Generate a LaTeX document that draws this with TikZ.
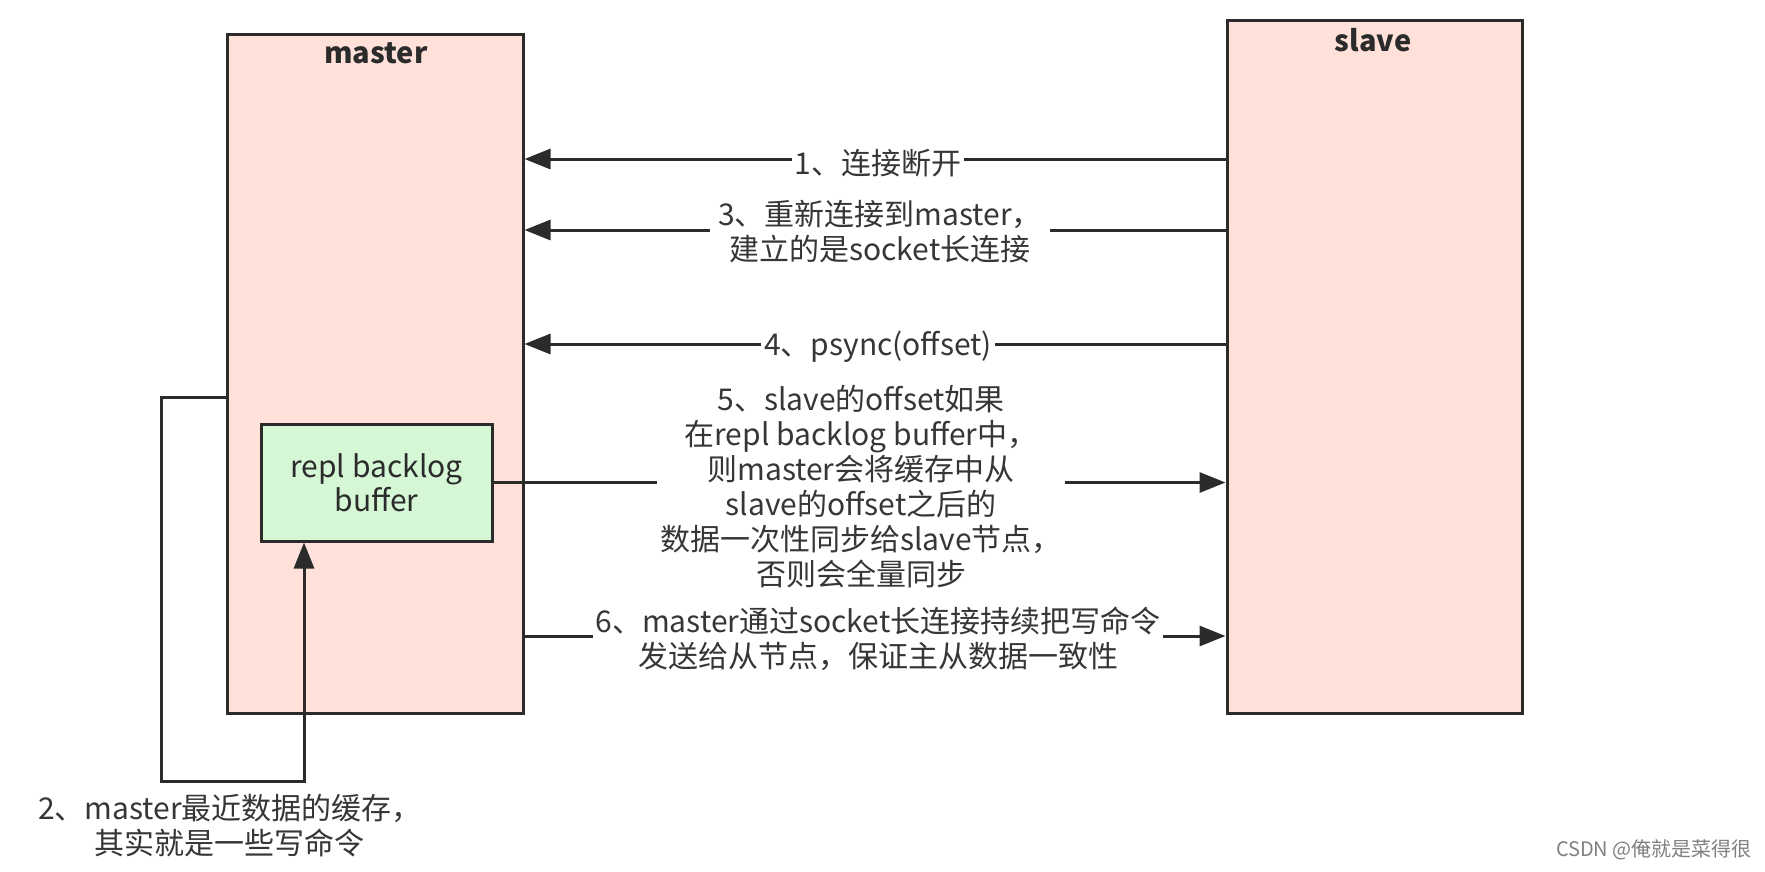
\documentclass[tikz,border=0pt]{standalone}
\usepackage{fontspec}
\setmainfont{Noto Sans CJK SC}
\usetikzlibrary{arrows.meta}
\definecolor{pinkfill}{HTML}{FFE1DA}
\definecolor{greenfill}{HTML}{D5F7D5}
\definecolor{edgec}{HTML}{2B2B2B}
\definecolor{txt}{HTML}{363636}
\begin{document}
\begin{tikzpicture}[x=1pt,y=-1pt,
  box/.style={draw=edgec, line width=3pt, fill=pinkfill, inner sep=0pt},
  bufbox/.style={draw=edgec, line width=3pt, fill=greenfill, inner sep=0pt, align=center, text=edgec, font=\fontsize{30}{34}\selectfont},
  conn/.style={draw=edgec, line width=3pt},
  arr/.style={conn, -{Triangle[length=26pt,width=20pt]}},
  lbl/.style={fill=white, text=txt, font=\fontsize{30}{35}\selectfont, align=center, inner sep=3pt},
  ttl/.style={font=\fontsize{29}{32}\selectfont\bfseries, text=edgec, inner sep=0pt},
  wm/.style={font=\fontsize{20}{24}\selectfont, text=gray, inner sep=0pt}]
\useasboundingbox (0,0) rectangle (1765,871);
\fill[white] (0,0) rectangle (1765,871);
% boxes
\node[box, minimum width=296pt, minimum height=679pt] (master) at (375,373.5) {};
\node[box, minimum width=295pt, minimum height=693pt] (slave) at (1374.5,366.5) {};
\node[bufbox, minimum width=231pt, minimum height=117pt] (buffer) at (376.5,482.5) {repl backlog\\buffer};
\node[ttl] (mtitle) at (376,53) {master};
\node[ttl] (stitle) at (1373,40) {slave};
% helper coordinates
\coordinate (c1) at (0,159);
\coordinate (c3) at (0,230);
\coordinate (c4) at (0,344);
\coordinate (c6) at (0,636);
\coordinate (lp1) at (161,397);
\coordinate (lp2) at (161,781);
\coordinate (lp3) at (304,781);
% connectors
\draw[arr] (slave.west |- c1) -- (master.east |- c1);
\draw[arr] (slave.west |- c3) -- (master.east |- c3);
\draw[arr] (slave.west |- c4) -- (master.east |- c4);
\draw[arr] (buffer.east) -- (slave.west |- buffer.east);
\draw[arr] (master.east |- c6) -- (slave.west |- c6);
\draw[arr] (master.west |- lp1) -- (lp1) -- (lp2) -- (lp3) -- (lp3 |- buffer.south);
% labels
\node[lbl] (l1) at (878,163) {1、连接断开};
\node[lbl, inner xsep=8pt] (l3) at (880,232) {3、重新连接到master，\\建立的是socket长连接};
\node[lbl] (l4) at (878,347) {4、psync(offset)};
\node[lbl] (l5) at (861,487) {5、slave的offset如果\\在repl backlog buffer中，\\则master会将缓存中从\\slave的offset之后的\\数据一次性同步给slave节点，\\否则会全量同步};
\node[lbl] (l6) at (878,639) {6、master通过socket长连接持续把写命令\\发送给从节点，保证主从数据一致性};
\node[lbl, fill=none] (l2) at (230,826) {2、master最近数据的缓存，\\其实就是一些写命令};
\node[wm, anchor=east] (wmk) at (1752,850) {CSDN @俺就是菜得很};
\end{tikzpicture}
\end{document}
